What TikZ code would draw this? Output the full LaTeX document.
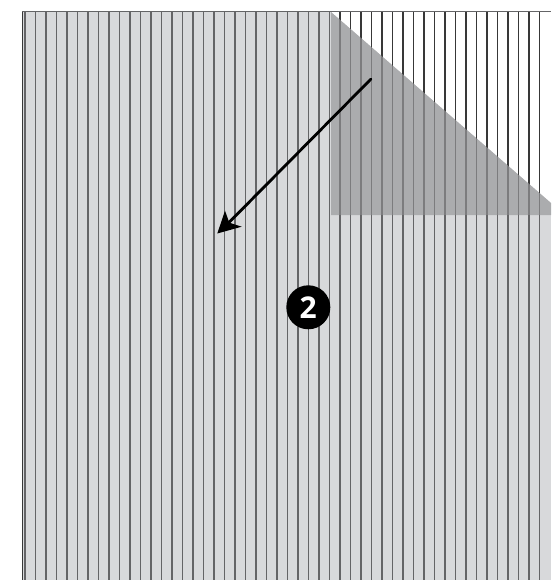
\documentclass[tikz,border=0pt]{standalone}
\usepackage{fontspec}
\setmainfont{Open Sans}
\definecolor{sheet}{HTML}{D8D9DB}
\definecolor{fold}{HTML}{ABACAE}
\definecolor{lineA}{HTML}{646466}
\definecolor{lineB}{HTML}{7C7C7E}
\definecolor{lineW}{HTML}{383838}
\tikzset{
  rule/.style={line width=1.5pt},
  badge/.style={circle,fill=black,text=white,minimum size=44pt,inner sep=0pt,font=\fontsize{30}{30}\selectfont\bfseries},
}
\begin{document}
\begin{tikzpicture}[x=1pt,y=-1pt]
\useasboundingbox (0,0) rectangle (551,580);
% paper
\fill[sheet] (23,12) rectangle (551,580);
\fill[white] (331,12) -- (551,12) -- (551,203) -- cycle;
\fill[fold] (331,12) -- (551,203) -- (551,215) -- (331,215) -- cycle;
% vertical rules
\begin{scope}
\clip (0,0) rectangle (551,580);
\foreach \k in {0,...,49}{
  \draw[rule,lineA] ({25.2+10.5*\k},12) -- ({25.2+10.5*\k},580);
}
\end{scope}
\begin{scope}
\clip (331,12) -- (551,12) -- (551,203) -- cycle;
\foreach \k in {29,...,49}{
  \draw[rule,lineW] ({25.2+10.5*\k},12) -- ({25.2+10.5*\k},215);
}
\end{scope}
\begin{scope}
\clip (331,12) -- (551,203) -- (551,215) -- (331,215) -- cycle;
\foreach \k in {29,...,49}{
  \draw[rule,lineB] ({25.2+10.5*\k},12) -- ({25.2+10.5*\k},215);
}
\end{scope}
% frame
\draw[line width=1.5pt,lineW] (22.5,580) -- (22.5,11.6);
\draw[line width=1.5pt,lineA] (22,11.6) -- (551,11.6);
% arrow
\coordinate (from) at (371,79);
\coordinate (to) at (227,224.5);
\draw[line width=2.8pt,line cap=round,black] (from) -- (to);
\fill[black] (217.3,233.5) -- (225,210.7) -- (229.3,222.7) -- (241.7,226.7) -- cycle;
% badge
\node[badge] (two) at (308.3,307.3) {2};
\end{tikzpicture}
\end{document}
